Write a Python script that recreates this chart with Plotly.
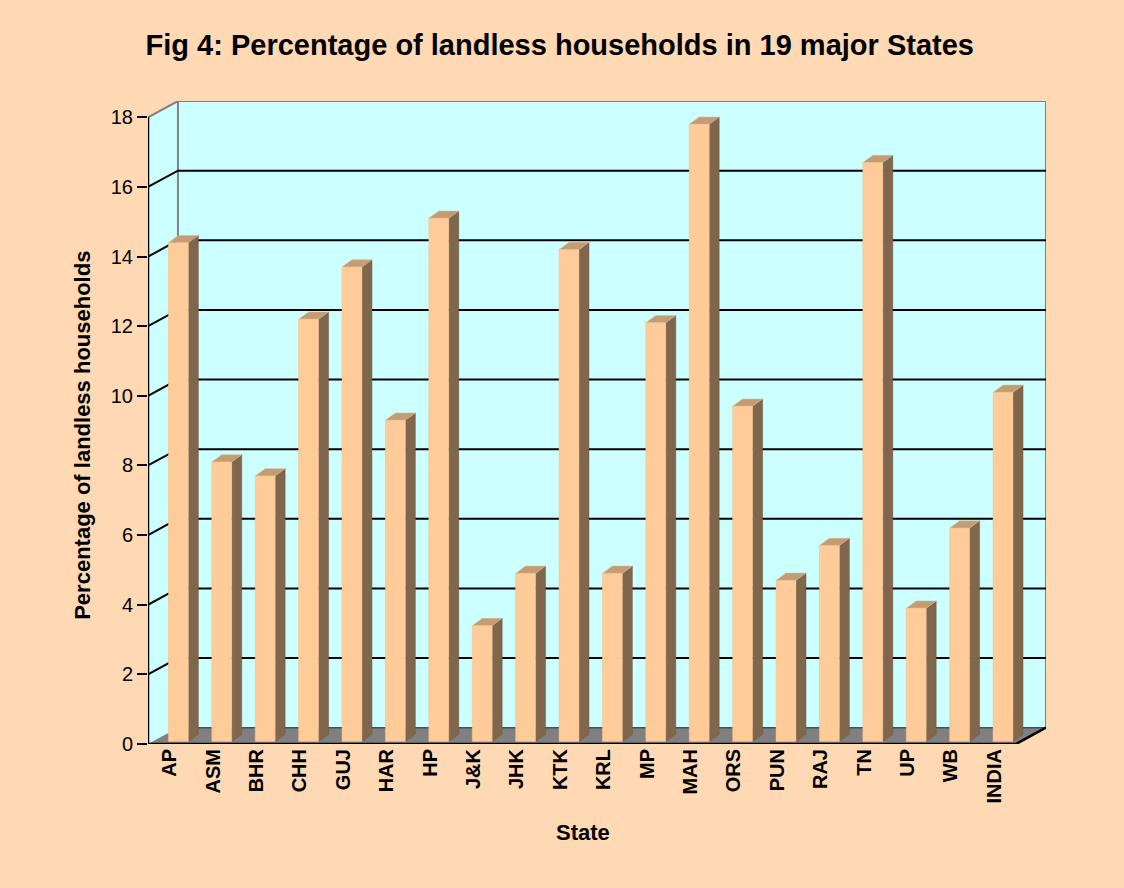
"""Fig 4: Percentage of landless households in 19 major States (Excel-style 3D columns)."""
import plotly.graph_objects as go

# ---------------------------------------------------------------------------
# Data
# ---------------------------------------------------------------------------
states = ["AP", "ASM", "BHR", "CHH", "GUJ", "HAR", "HP", "J&K", "JHK", "KTK",
          "KRL", "MP", "MAH", "ORS", "PUN", "RAJ", "TN", "UP", "WB", "INDIA"]
landless_pct = [14.4, 8.1, 7.7, 12.2, 13.7, 9.3, 15.1, 3.4, 4.9, 14.2,
                4.9, 12.1, 17.8, 9.7, 4.7, 5.7, 16.7, 3.9, 6.2, 10.1]
y_ticks = [0, 2, 4, 6, 8, 10, 12, 14, 16, 18]

# ---------------------------------------------------------------------------
# 3D look (projection offsets in axis units)
# ---------------------------------------------------------------------------
N = len(states)
Y_MAX = 18
WALL_DX, WALL_DY = 0.69, 0.47      # depth of floor / side wall
BAR_C, BAR_W = 0.2, 0.46           # bar face centre shift and width
BAR_DX, BAR_DY = 0.23, 0.21        # bar depth
BAR_BASE = 0.07

BG = "#FFD9B3"
WALL = "#CCFFFF"
FLOOR = "#808080"
FACE = "#FFCC99"
SIDE = "#80664D"
TOP = "#C49C72"
FONT = "Arial, Liberation Sans, sans-serif"

x_left, x_right = -0.5, N - 0.5


def polys(shapes):
    """Join polygons into one x/y list separated by None."""
    xs, ys = [], []
    for pts in shapes:
        for px, py in pts + [pts[0]]:
            xs.append(px)
            ys.append(py)
        xs.append(None)
        ys.append(None)
    return xs, ys


def fill_trace(shapes, color, line_color=None, width=0):
    xs, ys = polys(shapes)
    return go.Scatter(
        x=xs, y=ys, mode="lines", fill="toself", fillcolor=color,
        line=dict(color=line_color or color, width=width),
        hoverinfo="skip", showlegend=False,
    )


def line_trace(segments, color, width):
    xs, ys = [], []
    for seg in segments:
        for px, py in seg:
            xs.append(px)
            ys.append(py)
        xs.append(None)
        ys.append(None)
    return go.Scatter(
        x=xs, y=ys, mode="lines", line=dict(color=color, width=width),
        hoverinfo="skip", showlegend=False,
    )


fig = go.Figure()

# walls and floor
side_wall = [(x_left, 0), (x_left + WALL_DX, WALL_DY),
             (x_left + WALL_DX, Y_MAX + WALL_DY), (x_left, Y_MAX)]
back_wall = [(x_left + WALL_DX, WALL_DY), (x_right + WALL_DX, WALL_DY),
             (x_right + WALL_DX, Y_MAX + WALL_DY), (x_left + WALL_DX, Y_MAX + WALL_DY)]
floor = [(x_left, 0), (x_right, 0), (x_right + WALL_DX, WALL_DY), (x_left + WALL_DX, WALL_DY)]

fig.add_trace(fill_trace([side_wall, back_wall], WALL))
fig.add_trace(line_trace([[(x_left + WALL_DX, WALL_DY), (x_left + WALL_DX, Y_MAX + WALL_DY),
                           (x_right + WALL_DX, Y_MAX + WALL_DY), (x_right + WALL_DX, WALL_DY)],
                          [(x_left, Y_MAX), (x_left + WALL_DX, Y_MAX + WALL_DY)]],
                         "#808080", 2))

# gridlines
grid = []
for v in y_ticks[1:-1]:
    grid.append([(x_left, v), (x_left + WALL_DX, v + WALL_DY), (x_right + WALL_DX, v + WALL_DY)])
fig.add_trace(line_trace(grid, "black", 2))

fig.add_trace(fill_trace([floor], FLOOR))
fig.add_trace(line_trace([[(x_left + WALL_DX, WALL_DY), (x_right + WALL_DX, WALL_DY)]], "#4d4d4d", 1.5))

# axis edges
fig.add_trace(line_trace([[(x_left, Y_MAX), (x_left, 0), (x_right, 0), (x_right + WALL_DX, WALL_DY)]],
                         "black", 2.5))

# bars
fronts, sides, tops = [], [], []
for i, v in enumerate(landless_pct):
    x0 = i + BAR_C - BAR_W / 2
    x1 = i + BAR_C + BAR_W / 2
    fronts.append([(x0, BAR_BASE), (x1, BAR_BASE), (x1, v), (x0, v)])
    sides.append([(x1, BAR_BASE), (x1 + BAR_DX, BAR_BASE + BAR_DY),
                  (x1 + BAR_DX, v + BAR_DY), (x1, v)])
    tops.append([(x0, v), (x1, v), (x1 + BAR_DX, v + BAR_DY), (x0 + BAR_DX, v + BAR_DY)])

fig.add_trace(fill_trace(sides, SIDE, "#6e5842", 0.5))
fig.add_trace(fill_trace(tops, TOP, "#d8b896", 0.5))
fig.add_trace(fill_trace(fronts, FACE, "#f2bd88", 0.5))

fig.update_layout(
    width=1124,
    height=888,
    margin=dict(l=148, r=78, t=101, b=144),
    paper_bgcolor=BG,
    plot_bgcolor=BG,
    font=dict(family=FONT, color="black"),
    title=dict(
        text="<b>Fig 4: Percentage of landless households in 19 major States</b>",
        x=0.498, xanchor="center", y=0.949, yanchor="middle",
        font=dict(size=29, family=FONT),
    ),
    xaxis=dict(
        range=[x_left, x_right + WALL_DX],
        tickvals=list(range(N)),
        ticktext=[f"<b>{s}</b>" for s in states],
        tickangle=-90,
        tickfont=dict(size=20),
        ticks="",
        showgrid=False, zeroline=False, showline=False,
        fixedrange=True,
    ),
    yaxis=dict(
        range=[0, Y_MAX + WALL_DY],
        tickvals=y_ticks,
        tickfont=dict(size=20),
        ticks="outside", ticklen=10, tickwidth=2, tickcolor="black",
        showgrid=False, zeroline=False, showline=False,
        fixedrange=True,
    ),
    annotations=[
        dict(text="<b>Percentage of landless households</b>", textangle=-90,
             xref="paper", yref="paper", x=-0.073, y=0.48,
             xanchor="center", yanchor="middle",
             showarrow=False, font=dict(size=22)),
        dict(text="<b>State</b>", xref="paper", yref="paper", x=0.484, y=-0.137,
             xanchor="center", yanchor="middle",
             showarrow=False, font=dict(size=22)),
    ],
)

fig.write_html(
    "out.html",
    config={"displayModeBar": False},
    post_script="document.body.style.margin='0';document.body.style.background='%s';" % BG,
)
